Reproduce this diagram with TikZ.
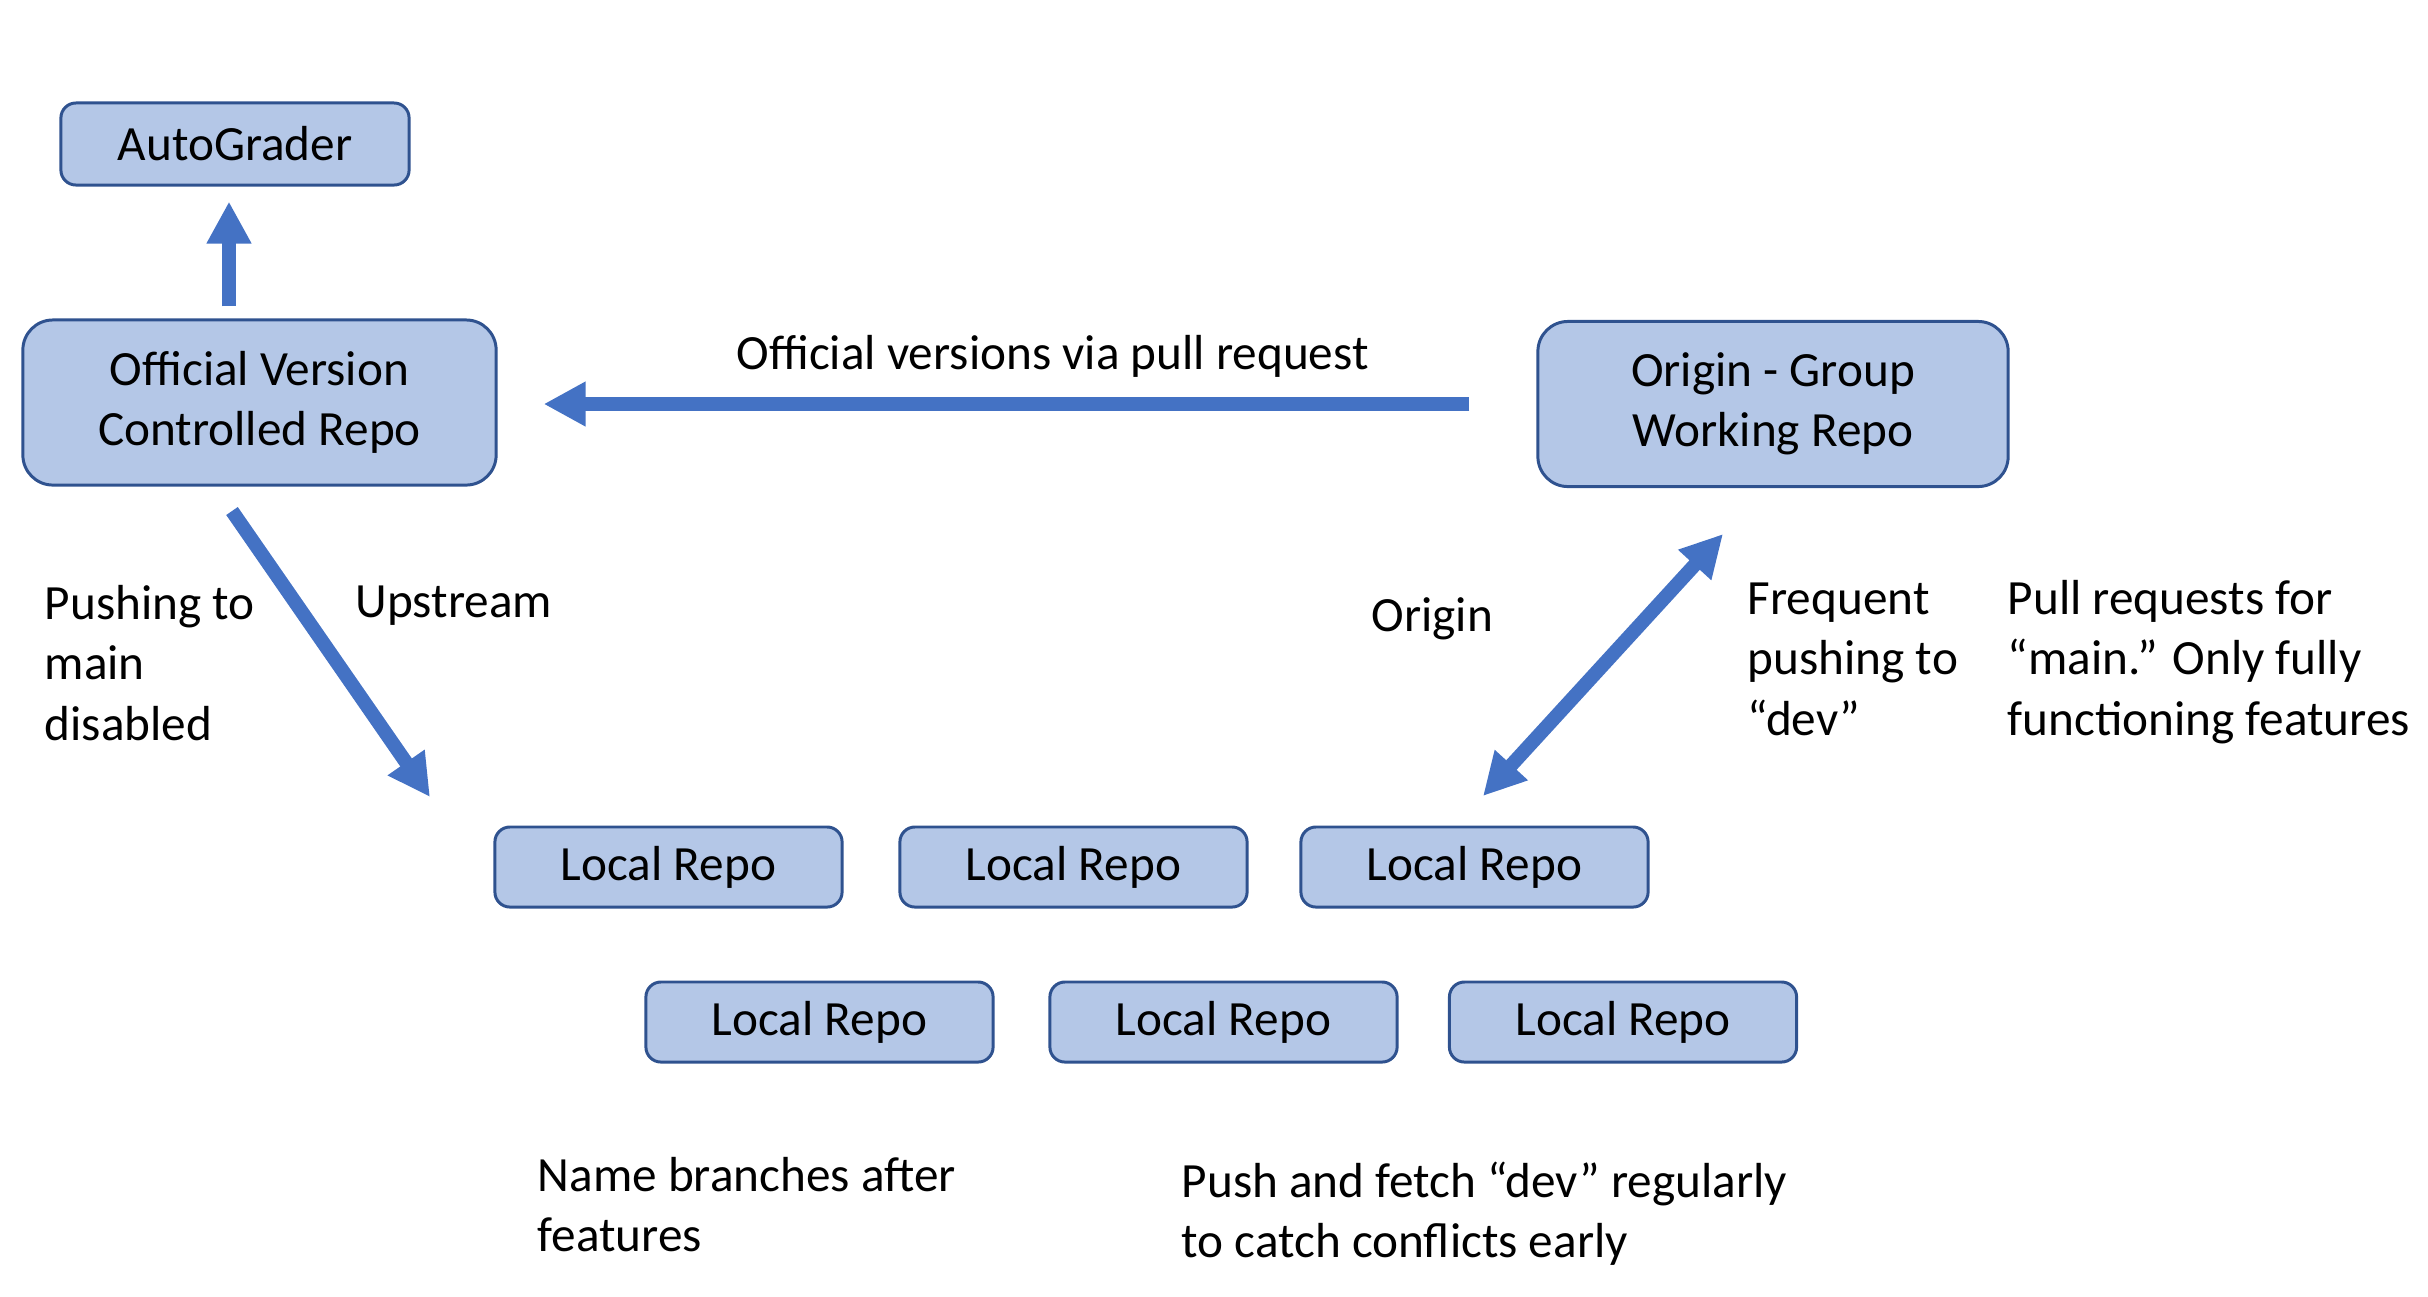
\documentclass[tikz,border=0pt]{standalone}
\usepackage{fontspec}
\setmainfont{Carlito}
\usetikzlibrary{arrows.meta}
\definecolor{boxfill}{HTML}{B4C7E7}
\definecolor{boxline}{HTML}{2F528F}
\definecolor{arwblue}{HTML}{4472C4}
\begin{document}
\begin{tikzpicture}[x=0.01cm,y=-0.01cm,
    every node/.style={font=\fontsize{14}{17.07}\selectfont,inner sep=0pt},
    repo/.style={draw=boxline,line width=0.85pt,fill=boxfill,rounded corners=0.15cm,
      minimum width=3.47cm,minimum height=0.8cm,align=center},
    bigrepo/.style={repo,rounded corners=0.3cm,minimum height=1.65cm},
    note/.style={anchor=base west,align=left},
    >={Triangle[length=4.2mm,width=4.2mm]},
    arw/.style={arwblue,line width=4pt,->}]
  \useasboundingbox (0,0) rectangle (2428,1296);
  % repositories
  \node[repo,minimum width=3.48cm,minimum height=0.82cm] (AutoGrader) at (235,144) {AutoGrader};
  \node[bigrepo,minimum width=4.73cm] (Official) at (259.5,402.5) {Official Version\\Controlled Repo};
  \node[bigrepo,minimum width=4.7cm] (Origin) at (1773,404) {Origin - Group\\Working Repo};
  \node[repo] (LocalA) at (668.5,867) {Local Repo};
  \node[repo] (LocalB) at (1073.5,867) {Local Repo};
  \node[repo] (LocalC) at (1474.5,867) {Local Repo};
  \node[repo] (LocalD) at (819.5,1022) {Local Repo};
  \node[repo] (LocalE) at (1223.5,1022) {Local Repo};
  \node[repo] (LocalF) at (1623,1022) {Local Repo};
  % free arrow ends
  \coordinate (upTail) at (232,511);
  \coordinate (upTip) at (430,797);
  \coordinate (devLow) at (1483,796);
  \coordinate (devHigh) at (1723,534);
  % arrows
  \draw[arw,shorten <=0.12cm,shorten >=0.15cm] ([xshift=-0.06cm]AutoGrader.south |- Official.north) -- ([xshift=-0.06cm]AutoGrader.south);
  \draw[arw,shorten <=0.67cm,shorten >=0.46cm] (Origin.west) -- (Official.east |- Origin.west);
  \draw[arw] (upTail) -- (upTip);
  \draw[arw,<->] (devLow) -- (devHigh);
  % notes (placed at the baseline of their last line)
  \node[note] (ViaPull) at (736,369) {Official versions via pull request};
  \node[note] (NoPush) at (44,740) {Pushing to\\main\\disabled};
  \node[note] (Upstream) at (355,617) {Upstream};
  \node[note] (OriginLbl) at (1371,631) {Origin};
  \node[note] (Frequent) at (1747,735) {Frequent\\pushing to\\``dev''};
  \node[note] (PullMain) at (2007,735) {Pull requests for\\``main.'' Only fully\\functioning features};
  \node[note] (Branches) at (537,1251) {Name branches after\\features};
  \node[note] (FetchDev) at (1181,1257) {Push and fetch ``dev'' regularly\\to catch conflicts early};
\end{tikzpicture}
\end{document}
